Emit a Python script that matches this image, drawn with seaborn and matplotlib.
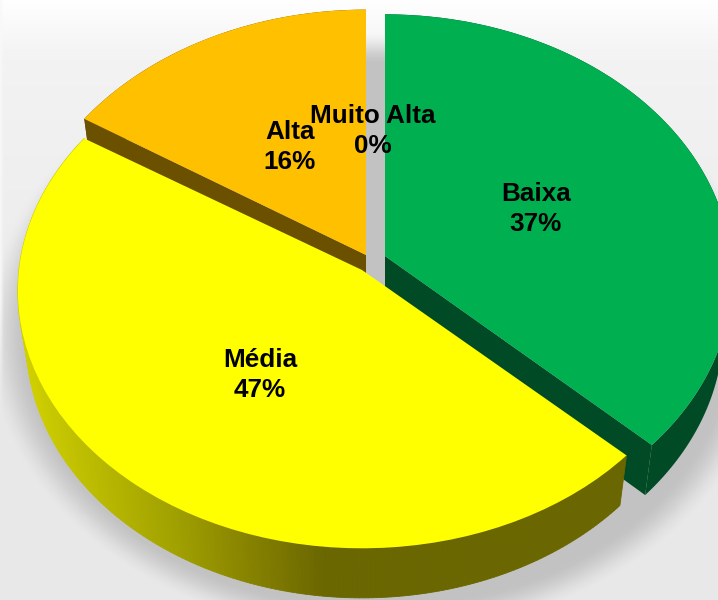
import numpy as np
import matplotlib
matplotlib.use("Agg")
import matplotlib.pyplot as plt
from matplotlib.transforms import Transform
from matplotlib.colors import LinearSegmentedColormap
import seaborn as sns

categories = ["Baixa", "Média", "Alta", "Muito Alta"]
values = [37, 47, 16, 0]
face_colors = ["#00B050", "#FFFF00", "#FFC000", "#BFBFBF"]
label_pos = [(536, 209), (260, 375), (290, 147), (373, 131)]

# placement of each slice on the canvas: apex x, apex y, x radius, y scale
slice_geom = {"Baixa": (385, 256, 346, 261), "Média": (362, 270, 343, 256),
              "Alta": (366, 255, 348, 265), "Muito Alta": (375, 260, 344, 262)}
K, DEPTH = 0.08, 51

sns.set_theme(style="white")
plt.rcParams["font.family"] = ["Liberation Sans", "DejaVu Sans"]


class Persp(Transform):
    input_dims = output_dims = 2
    is_separable = False
    has_inverse = False

    def __init__(self, cx, cy, r, s):
        super().__init__()
        self.cx, self.cy, self.r, self.s = cx, cy, r, s

    def transform_non_affine(self, xy):
        xy = np.asarray(xy, float)
        w = 1 + K * xy[:, 1]
        return np.column_stack([self.cx + self.r * xy[:, 0] / w, self.cy - self.s * xy[:, 1] / w])


fig = plt.figure(figsize=(7.18, 6.0), dpi=100)
ax = fig.add_axes([0, 0, 1, 1])

wedges, _ = ax.pie(values, startangle=90, counterclock=False, colors=face_colors)
ax.set_aspect("auto")
ax.set_xlim(0, 718)
ax.set_ylim(600, 0)
ax.axis("off")

# backdrop with soft shadow
X, Y = np.meshgrid(np.arange(718) + .5, np.arange(600) + .5)
base = 0.955 - 0.045 * np.clip(Y / 400, 0, 1) + 0.04 * np.clip((60 - Y) / 60, 0, 1)
dist = (np.hypot((X - 378) / 372, (Y - 335) / 287) - 1) * 300
shade = np.clip(0.5 - dist / 36, 0, 1)
shade = shade * shade * (3 - 2 * shade)
bg = base * (1 - shade) + 0.76 * shade
edge = np.clip((4 - X) / 4, 0, 1) * np.clip((420 - Y) / 120, 0, 1)
bg = bg * (1 - edge) + 0.97 * edge
ax.imshow(bg, cmap="gray", vmin=0, vmax=1, extent=(0, 718, 600, 0), aspect="auto", zorder=0, interpolation="bilinear")
ax.set_xlim(0, 718)
ax.set_ylim(600, 0)

side_cmap = LinearSegmentedColormap.from_list(
    "side", ["#D0D000", "#B8B800", "#A0A000", "#868200", "#6A6600"])


def rim(trans, deg):
    t = np.deg2rad(deg)
    return trans.transform_non_affine(np.column_stack([np.cos(t), np.sin(t)]))


for name, wedge in zip(categories, wedges):
    cx, cy, r, s = slice_geom[name]
    tr = Persp(cx, cy, r, s)
    tr2 = Persp(cx, cy + DEPTH, r * 0.975, s * 0.995)
    wedge.set_transform(tr + ax.transData)
    wedge.set_linewidth(0)
    if name == "Muito Alta":
        wedge.set_visible(False)
        continue
    wedge.set_zorder(5 if name == "Média" else 3)
    degs = np.linspace(wedge.theta1, wedge.theta2, 241)
    pts = rim(tr, degs)
    pts2 = rim(tr2, degs)
    if name == "Média":
        for i in range(len(pts) - 1):
            mid = pts[i:i + 2, 0].mean()
            col = side_cmap(np.clip((mid - 25) / 300, 0, 1))
            quad = np.vstack([pts[i:i + 2], pts2[i:i + 2][::-1]])
            ax.fill(quad[:, 0], quad[:, 1], color=col, lw=0.6, zorder=4)
    else:
        dark = {"Baixa": "#004A25", "Alta": "#6B5000"}[name]
        strip = np.vstack([pts, pts2[::-1]])
        ax.fill(strip[:, 0], strip[:, 1], color=dark, lw=0, zorder=2)
        for end in (wedge.theta1, wedge.theta2):
            d = np.array([end])
            p, q = rim(tr, d)[0], rim(tr2, d)[0]
            wall = np.array([[cx, cy], p, q, [cx, cy + DEPTH]])
            ax.fill(wall[:, 0], wall[:, 1], color=dark, lw=0, zorder=2)

for name, v, (lx, ly) in zip(categories, values, label_pos):
    ax.text(lx, ly, f"{name}\n{v}%", ha="center", va="center", fontsize=18.8,
            fontweight="bold", color="black", linespacing=1.28, zorder=6)

fig.savefig("out.png", dpi=100)
